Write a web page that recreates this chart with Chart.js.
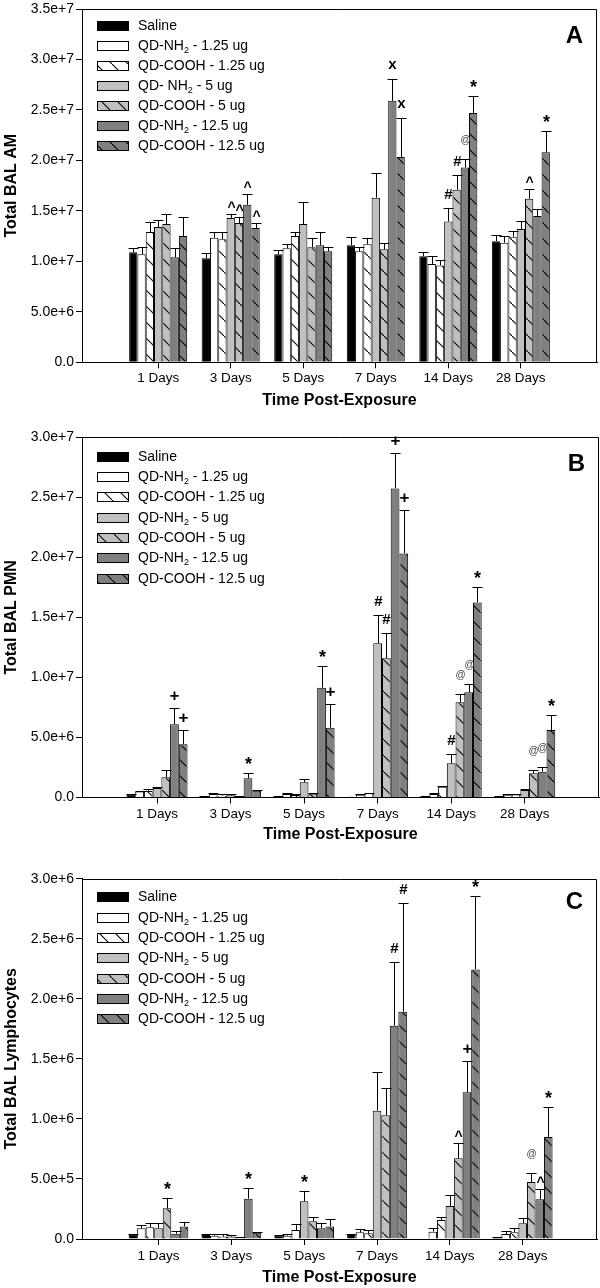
<!DOCTYPE html>
<html>
<head>
<meta charset="utf-8">
<script src="https://cdn.jsdelivr.net/npm/chart.js@4.4.1/dist/chart.umd.min.js"></script>
<style>
  html, body { margin: 0; padding: 0; background: #fff; }
  body { width: 600px; height: 1288px; position: relative; overflow: hidden; }
  canvas { position: absolute; left: 0; }
</style>
</head>
<body>
<canvas id="chartA" width="600" height="420" style="top:0px;width:600px;height:420px"></canvas>
<canvas id="chartB" width="600" height="430" style="top:420px;width:600px;height:430px"></canvas>
<canvas id="chartC" width="600" height="438" style="top:850px;width:600px;height:438px"></canvas>
<script>
const days = ['1 Days', '3 Days', '5 Days', '7 Days', '14 Days', '28 Days'];
const dayIndex = [0, 1, 2, 3, 4, 5];

const seriesA = ['Saline', 'QD-NH₂ - 1.25 ug', 'QD-COOH - 1.25 ug', 'QD- NH₂ - 5 ug',
  'QD-COOH - 5 ug', 'QD-NH₂ - 12.5 ug', 'QD-COOH - 12.5 ug'];
const seriesBC = ['Saline', 'QD-NH₂ - 1.25 ug', 'QD-COOH - 1.25 ug', 'QD-NH₂ - 5 ug',
  'QD-COOH - 5 ug', 'QD-NH₂ - 12.5 ug', 'QD-COOH - 12.5 ug'];

// A - total BAL AM (millions), one row per series
const amMean = [
  [10.9, 10.3, 10.7, 11.6, 10.5, 12.0],
  [10.7, 12.35, 11.3, 11.0, 9.75, 11.85],
  [12.9, 12.2, 12.5, 11.7, 9.6, 12.45],
  [13.4, 14.3, 13.7, 16.3, 13.95, 13.2],
  [13.7, 13.8, 11.4, 11.2, 17.1, 16.2],
  [10.4, 15.6, 11.6, 25.9, 19.3, 14.5],
  [12.5, 13.3, 11.0, 20.35, 24.7, 20.8],
];
const amErr = [
  [0.4, 0.5, 0.4, 0.8, 0.4, 0.6],
  [0.7, 0.55, 0.4, 0.4, 0.75, 0.65],
  [0.95, 0.7, 0.4, 0.6, 0.5, 0.55],
  [0.7, 0.4, 2.2, 2.5, 1.35, 0.8],
  [1.0, 0.6, 0.9, 0.65, 1.5, 1.0],
  [0.9, 1.1, 1.3, 2.2, 0.85, 0.7],
  [1.9, 0.5, 0.4, 3.9, 1.7, 2.1],
];
const amMarks = [
  ['', '', '', '', '', ''],
  ['', '', '', '', '', ''],
  ['', '', '', '', '', ''],
  ['', '^', '', '', '#', ''],
  ['', '^', '', '', '#', '^'],
  ['', '^', '', 'x', '@', ''],
  ['', '^', '', 'x', '*', '*'],
];

// B - total BAL PMN (millions)
const pmnMean = [
  [0.23, 0.08, 0.06, 0.06, 0.07, 0.07],
  [0.5, 0.29, 0.29, 0.23, 0.29, 0.23],
  [0.55, 0.15, 0.2, 0.35, 0.9, 0.26],
  [0.79, 0.18, 1.27, 12.84, 2.85, 0.62],
  [1.68, 0.07, 0.32, 11.59, 7.93, 2.01],
  [6.1, 1.6, 9.14, 25.74, 8.76, 2.15],
  [4.43, 0.57, 5.81, 20.33, 16.25, 5.62],
];
const pmnErr = [
  [0.07, 0.03, 0.03, 0.02, 0.02, 0.02],
  [0.06, 0.08, 0.06, 0.05, 0.06, 0.05],
  [0.12, 0.1, 0.06, 0.05, 0.08, 0.04],
  [0.08, 0.08, 0.24, 2.36, 0.75, 0.06],
  [0.58, 0.04, 0.04, 2.08, 0.69, 0.28],
  [1.33, 0.47, 1.81, 2.92, 0.69, 0.42],
  [1.17, 0.04, 1.95, 3.61, 1.25, 1.25],
];
const pmnMarks = [
  ['', '', '', '', '', ''],
  ['', '', '', '', '', ''],
  ['', '', '', '', '', ''],
  ['', '', '', '#', '#', ''],
  ['', '', '', '#', '@', '@'],
  ['+', '*', '*', '+', '@', '@'],
  ['+', '', '+', '+', '*', '*'],
];

// C - total BAL lymphocytes (x 1e5)
const lymMean = [
  [0.36, 0.33, 0.28, 0.33, null, 0.11],
  [0.89, 0.28, 0.28, 0.56, 0.61, 0.42],
  [0.97, 0.2, 0.75, 0.47, 1.58, 0.56],
  [0.89, 0.2, 3.14, 10.68, 2.75, 1.31],
  [2.56, 0.15, 1.47, 10.3, 6.72, 4.75],
  [0.44, 3.36, 0.89, 17.76, 12.21, 3.3],
  [1.05, 0.53, 1.05, 18.93, 22.45, 8.49],
];
const lymErr = [
  [0.08, 0.09, 0.08, 0.07, null, 0.03],
  [0.3, 0.14, 0.16, 0.27, 0.28, 0.27],
  [0.34, 0.19, 0.53, 0.28, 0.28, 0.38],
  [0.42, 0.13, 0.83, 3.2, 0.91, 0.41],
  [0.88, 0.05, 0.36, 2.3, 1.3, 0.72],
  [0.23, 0.91, 0.44, 5.34, 2.64, 0.86],
  [0.34, 0.05, 0.6, 9.02, 6.11, 2.48],
];
const lymMarks = [
  ['', '', '', '', '', ''],
  ['', '', '', '', '', ''],
  ['', '', '', '', '', ''],
  ['', '', '*', '', '', ''],
  ['*', '', '', '', '^', '@'],
  ['', '*', '', '#', '+', '^'],
  ['', '', '', '#', '*', '*'],
];

const family = "'Liberation Sans', Arial, Helvetica, sans-serif";
Chart.defaults.font.family = family;
Chart.defaults.color = '#000';

const fills = ['#000000', '#ffffff', '#ffffff', '#c0c0c0', '#c0c0c0', '#808080', '#808080'];
const hatched = [false, false, true, false, true, false, true];

function hatch(color) {
  const c = document.createElement('canvas');
  c.width = 16; c.height = 16;
  const g = c.getContext('2d');
  g.fillStyle = color;
  g.fillRect(0, 0, 16, 16);
  g.strokeStyle = '#000';
  g.lineWidth = 1.1;
  g.beginPath();
  g.moveTo(-2, -2);
  g.lineTo(18, 18);
  g.stroke();
  return g.createPattern(c, 'repeat');
}

const markStyle = {
  '*': { font: 'bold 18px', dy: -4, color: '#000' },
  '#': { font: 'bold 15px', dy: -10, color: '#000' },
  '^': { font: 'bold 14px', dy: -3, color: '#000' },
  'x': { font: 'bold 15px', dy: -11, color: '#000' },
  '+': { font: 'bold 17px', dy: -8, color: '#000' },
  '@': { font: '10px', dy: -17, color: '#444' },
};

// error bars (upper only) and significance marks
const errorBars = {
  id: 'errorBars',
  afterDatasetsDraw(chart, args, opts) {
    const { ctx } = chart;
    const y = chart.scales.y;
    ctx.save();
    chart.data.datasets.forEach((ds, i) => {
      chart.getDatasetMeta(i).data.forEach((bar, j) => {
        const v = ds.data[j], e = opts.err[i][j];
        if (v == null || e == null) return;
        const top = Math.round(y.getPixelForValue(v + e * opts.unit)) + 0.5;
        const x = Math.round(bar.x) + 0.5;
        ctx.strokeStyle = '#000';
        ctx.lineWidth = 1;
        ctx.beginPath();
        ctx.moveTo(x, bar.y);
        ctx.lineTo(x, top);
        ctx.moveTo(x - 5, top);
        ctx.lineTo(x + 5, top);
        ctx.stroke();
        const m = opts.marks[i][j];
        if (m) {
          const st = markStyle[m];
          ctx.font = st.font + ' ' + family;
          ctx.fillStyle = st.color;
          ctx.textAlign = 'center';
          ctx.textBaseline = 'alphabetic';
          ctx.fillText(m, x, top + st.dy);
        }
      });
    });
    ctx.restore();
  }
};

function drawLabel(ctx, text, x, y) {
  ctx.fillStyle = '#000';
  ctx.textAlign = 'left';
  ctx.textBaseline = 'middle';
  const parts = text.split('₂');
  parts.forEach((part, k) => {
    ctx.font = '14px ' + family;
    ctx.fillText(part, x, y);
    x += ctx.measureText(part).width;
    if (k < parts.length - 1) {
      ctx.font = '9px ' + family;
      ctx.fillText('2', x, y + 5);
      x += ctx.measureText('2').width;
    }
  });
}

// legend inside the plot, frame and panel letter
const boxLegend = {
  id: 'boxLegend',
  afterDraw(chart, args, opts) {
    const { ctx, chartArea: a } = chart;
    ctx.save();
    ctx.strokeStyle = '#000';
    ctx.lineWidth = 1;
    const t = Math.round(a.top) + 0.5, r = Math.round(a.right) - 0.5;
    ctx.beginPath();
    ctx.moveTo(a.left, t);
    ctx.lineTo(r, t);
    ctx.lineTo(r, a.bottom);
    ctx.stroke();

    chart.data.datasets.forEach((ds, i) => {
      const cy = Math.round(a.top + opts.top + i * opts.pitch);
      const x0 = Math.round(a.left) + 15;
      ctx.fillStyle = ds.backgroundColor;
      ctx.fillRect(x0, cy - 5, 32, 10);
      ctx.strokeStyle = '#000';
      ctx.strokeRect(x0 + 0.5, cy - 4.5, 31, 9);
      drawLabel(ctx, ds.label, x0 + 41, cy);
    });

    ctx.font = 'bold 24px ' + family;
    ctx.fillStyle = '#000';
    ctx.textAlign = 'right';
    ctx.textBaseline = 'middle';
    ctx.fillText(opts.letter, a.right - 14, a.top + opts.letterY);
    ctx.restore();
  }
};

function makePanel(id, cfg) {
  new Chart(document.getElementById(id), {
    type: 'bar',
    data: {
      labels: dayIndex,
      datasets: cfg.series.map((name, i) => ({
        label: name,
        data: cfg.mean[i].map(v => v == null ? null : v * cfg.unit),
        backgroundColor: hatched[i] ? hatch(fills[i]) : fills[i],
        borderColor: '#000',
        borderWidth: 1,
        categoryPercentage: cfg.catPct,
        barPercentage: 1,
      })),
    },
    options: {
      responsive: false,
      animation: false,
      events: [],
      layout: { padding: { top: cfg.padTop, right: cfg.padRight, left: 0, bottom: 0 } },
      plugins: {
        legend: { display: false },
        tooltip: { enabled: false },
        errorBars: { err: cfg.err, marks: cfg.marks, unit: cfg.unit },
        boxLegend: { letter: cfg.letter, top: cfg.legendTop, pitch: cfg.pitch, letterY: cfg.letterY },
      },
      scales: {
        x: {
          type: 'linear',
          offset: false,
          min: cfg.xMin,
          max: cfg.xMax,
          afterBuildTicks: s => { s.ticks = dayIndex.map(v => ({ value: v })); },
          afterFit: s => { s.height = cfg.axisH; },
          grid: { offset: false, drawOnChartArea: false, tickLength: 6, color: '#000' },
          border: { color: '#000' },
          ticks: {
            padding: cfg.tickPad, color: '#000', font: { size: 13.5 },
            autoSkip: false, maxRotation: 0,
            callback: v => days[v],
          },
          title: {
            display: true, text: 'Time Post-Exposure', color: '#000',
            font: { size: 16, weight: 'bold' }, padding: { top: 0, bottom: cfg.titlePad },
          },
        },
        y: {
          min: 0,
          max: cfg.yMax,
          afterFit: s => { s.width = 82; },
          grid: { drawOnChartArea: false, tickLength: 6, color: '#000' },
          border: { color: '#000' },
          ticks: {
            stepSize: cfg.yStep, padding: 2, color: '#000',
            font: { size: 14, lineHeight: 1 },
            callback: v => v === 0 ? '0.0' : v.toExponential(1),
          },
          title: {
            display: true, text: cfg.yTitle, color: '#000',
            font: { size: 16, weight: 'bold' }, padding: { top: 2, bottom: 0 },
          },
        },
      },
    },
    plugins: [errorBars, boxLegend],
  });
}

makePanel('chartA', {
  series: seriesA, mean: amMean, err: amErr, marks: amMarks, unit: 1e6,
  yMax: 3.5e7, yStep: 5e6, yTitle: 'Total BAL AM', letter: 'A',
  padTop: 7, padRight: 3, axisH: 57.7, tickPad: 2, titlePad: 10,
  xMin: -1.05, xMax: 6.05, catPct: 0.8, legendTop: 16.5, pitch: 20, letterY: 27,
});

makePanel('chartB', {
  series: seriesBC, mean: pmnMean, err: pmnErr, marks: pmnMarks, unit: 1e6,
  yMax: 3e7, yStep: 5e6, yTitle: 'Total BAL PMN', letter: 'B',
  padTop: 17.3, padRight: 1, axisH: 52.5, tickPad: 3, titlePad: 5.4,
  xMin: -1.02, xMax: 6.01, catPct: 0.83, legendTop: 19.4, pitch: 20.3, letterY: 26.7,
});

makePanel('chartC', {
  series: seriesBC, mean: lymMean, err: lymErr, marks: lymMarks, unit: 1e5,
  yMax: 3e6, yStep: 5e5, yTitle: 'Total BAL Lymphocytes', letter: 'C',
  padTop: 28.7, padRight: 3, axisH: 49, tickPad: 3, titlePad: 1,
  xMin: -1.05, xMax: 6.02, catPct: 0.82, legendTop: 18.6, pitch: 20.3, letterY: 23.3,
});
</script>
</body>
</html>
